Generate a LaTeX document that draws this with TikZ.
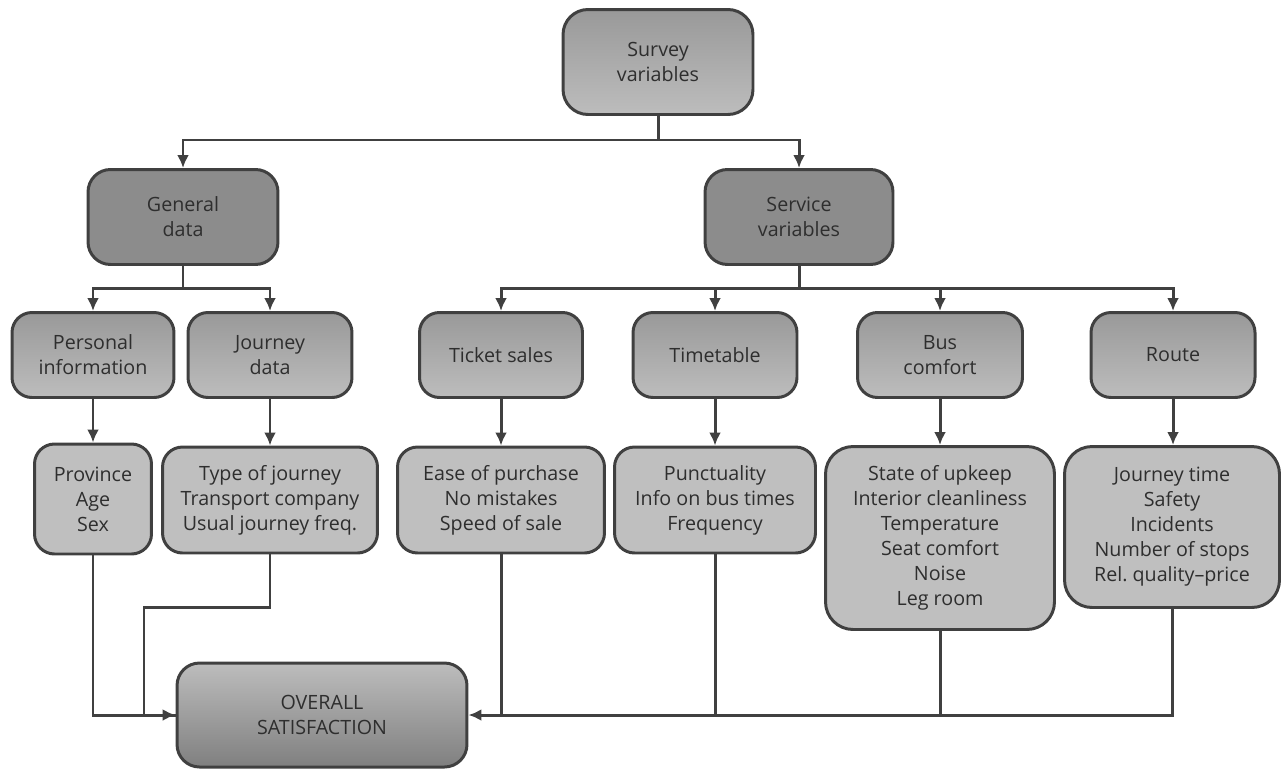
\documentclass[tikz,border=0pt]{standalone}
\usepackage{fontspec}
\setmainfont{Open Sans}
\usetikzlibrary{arrows.meta}
\usetikzlibrary{calc}

\definecolor{linegray}{HTML}{404040}
\definecolor{textgray}{HTML}{2E2E2E}

\tikzset{
    box/.style={draw=linegray, line width=1.7pt, rounded corners=0.4cm,
        align=center, font=\fontsize{11.2}{14.2}\selectfont, text=textgray,
        inner sep=0pt},
    topbox/.style={box, top color=black!40, bottom color=black!26},
    groupbox/.style={box, fill=black!45},
    headbox/.style={box, top color=black!40, bottom color=black!26},
    itembox/.style={box, fill=black!25},
    resultbox/.style={box, top color=black!26, bottom color=black!50},
    link/.style={draw=linegray, line width=1.7pt},
    arr/.style={link, -{Latex[length=2.6mm,width=2.4mm]}},
}

\begin{document}
\begin{tikzpicture}[x=0.02cm, y=-0.02cm]
    \useasboundingbox (0,0) rectangle (1283,768);

    % top level
    \node[topbox, minimum width=3.8cm, minimum height=2.1cm, rounded corners=0.5cm]
        (survey) at (658,62) {Survey\\variables};

    \node[groupbox, minimum width=3.8cm, minimum height=1.9cm, rounded corners=0.45cm]
        (general) at (183,217) {General\\data};
    \node[groupbox, minimum width=3.76cm, minimum height=1.9cm, rounded corners=0.45cm]
        (service) at (799,217) {Service\\variables};

    % headings
    \node[headbox, minimum width=3.24cm, minimum height=1.7cm] (personal) at (93,355)
        {Personal\\information};
    \node[headbox, minimum width=3.28cm, minimum height=1.7cm] (journey) at (270,355)
        {Journey\\data};
    \node[headbox, minimum width=3.26cm, minimum height=1.7cm] (ticket) at (501,355)
        {Ticket sales};
    \node[headbox, minimum width=3.28cm, minimum height=1.7cm] (timetable) at (715,355)
        {Timetable};
    \node[headbox, minimum width=3.3cm, minimum height=1.7cm] (bus) at (940,355)
        {Bus\\comfort};
    \node[headbox, minimum width=3.28cm, minimum height=1.7cm] (route) at (1173,355)
        {Route};

    % items
    \node[itembox, minimum width=2.34cm, minimum height=2.2cm] (province) at (93,499)
        {Province\\Age\\Sex};
    \node[itembox, minimum width=4.3cm, minimum height=2.12cm] (tripdata) at (270,500)
        {Type of journey\\Transport company\\Usual journey freq.};
    \node[itembox, minimum width=4.14cm, minimum height=2.12cm] (sales) at (501,500)
        {Ease of purchase\\No mistakes\\Speed of sale};
    \node[itembox, minimum width=4.02cm, minimum height=2.12cm] (times) at (715,500)
        {Punctuality\\Info on bus times\\Frequency};
    \node[itembox, minimum width=4.58cm, minimum height=3.66cm, rounded corners=0.55cm]
        (comfort) at (940,538)
        {State of upkeep\\Interior cleanliness\\Temperature\\Seat comfort\\Noise\\Leg room};
    \node[itembox, minimum width=4.3cm, minimum height=3.22cm, rounded corners=0.55cm]
        (routedata) at (1172,527)
        {Journey time\\Safety\\Incidents\\Number of stops\\Rel.\ quality--price};

    % result
    \node[resultbox, minimum width=5.8cm, minimum height=2.08cm, rounded corners=0.45cm]
        (overall) at (322,715) {OVERALL\\SATISFACTION};

    % splits
    \coordinate (split-top) at (658,140);
    \coordinate (split-gen) at (183,288);
    \coordinate (split-srv) at (799,288);
    \coordinate (trip-bend) at (144,607);

    \draw[link] (survey) -- (split-top);
    \draw[arr] (split-top) -| (general);
    \draw[arr] (split-top) -| (service);

    \draw[link] (general) -- (split-gen);
    \draw[arr] (split-gen) -| (personal);
    \draw[arr] (split-gen) -| (journey);

    \draw[link] (service) -- (split-srv);
    \draw[arr] (split-srv) -| (ticket);
    \draw[arr] (split-srv) -| (timetable);
    \draw[arr] (split-srv) -| (bus);
    \draw[arr] (split-srv) -| (route);

    \draw[arr] (personal) -- (province);
    \draw[arr] (journey) -- (journey |- tripdata.north);
    \draw[arr] (ticket) -- (sales);
    \draw[arr] (timetable) -- (times);
    \draw[arr] (bus) -- (comfort);
    \draw[arr] (route) -- (route |- routedata.north);

    % into the result
    \draw[arr] (province) |- (overall.west);
    \draw[link] (tripdata) |- (trip-bend) |- (overall.west);
    \draw[arr] (routedata) |- (overall.east);
    \draw[link] (sales) -- (sales |- overall.east);
    \draw[link] (times) -- (times |- overall.east);
    \draw[link] (comfort) -- (comfort |- overall.east);
\end{tikzpicture}
\end{document}
